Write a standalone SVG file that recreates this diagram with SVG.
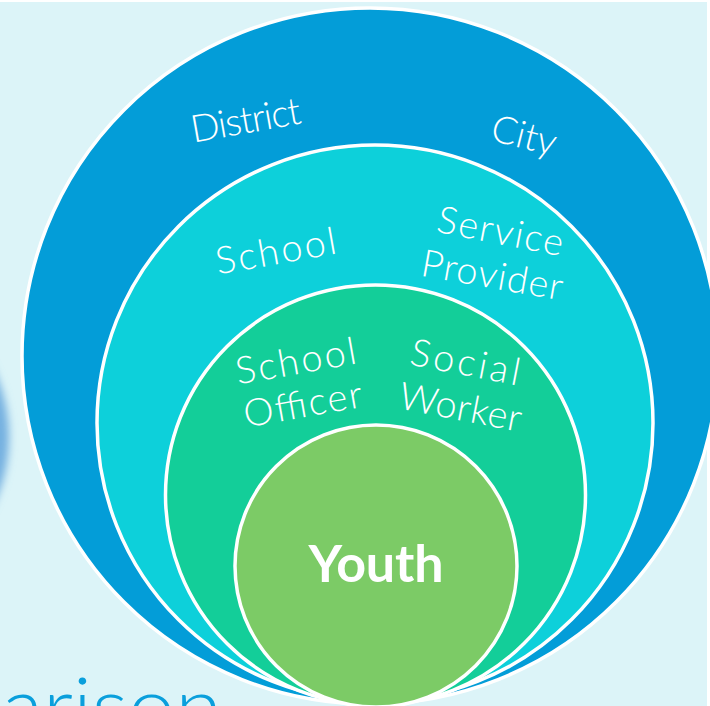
<svg xmlns="http://www.w3.org/2000/svg" width="710" height="706" viewBox="0 0 710 706">
<style>
.ring{stroke:#ffffff;stroke-width:3.5}
.lbl{fill:#ffffff;font-family:Lato,"Open Sans","Liberation Sans",sans-serif;font-weight:300;font-size:38px;text-anchor:middle}
.big{fill:#ffffff;font-family:Lato,"Liberation Sans",sans-serif;font-weight:700;font-size:52px;text-anchor:middle}
</style>
<defs>
<filter id="blur" x="-50%" y="-50%" width="200%" height="200%"><feGaussianBlur stdDeviation="4"/></filter>
</defs>
<rect x="0" y="0" width="710" height="706" fill="#ffffff"/>
<rect x="0" y="2" width="707" height="704" fill="#dcf4f8"/>
<circle cx="-146" cy="437" r="155" fill="#74b0e0" filter="url(#blur)"/>
<text x="2" y="735" font-family="Lato,'Open Sans','Liberation Sans',sans-serif" font-weight="300" font-size="80" fill="#0a9fdc" textLength="220" lengthAdjust="spacingAndGlyphs">arison</text>
<g id="city">
<circle class="ring" cx="370" cy="356" r="348" fill="#039dd8"/>
<text class="lbl" transform="translate(248,133) rotate(-10)" textLength="111">District</text>
<text class="lbl" transform="translate(521,148) rotate(14)" textLength="66">City</text>
</g>
<g id="school">
<circle class="ring" cx="375" cy="423" r="278" fill="#0dd0da"/>
<text class="lbl" transform="translate(278,264) rotate(-10)" textLength="122">School</text>
<text class="lbl" transform="translate(498,244) rotate(11)" textLength="128">Service</text>
<text class="lbl" transform="translate(490,288) rotate(10)" textLength="143">Provider</text>
</g>
<g id="officer">
<circle class="ring" cx="375.5" cy="495" r="210" fill="#13ce99"/>
<text class="lbl" transform="translate(298,374) rotate(-10)" textLength="122">School</text>
<text class="lbl" transform="translate(305,417) rotate(-10)" textLength="120">Officer</text>
<text class="lbl" transform="translate(463,375) rotate(11)" textLength="111">Social</text>
<text class="lbl" transform="translate(458,420) rotate(11)" textLength="124">Worker</text>
</g>
<g id="youth">
<circle class="ring" cx="376" cy="566" r="141" fill="#7ccb66"/>
<text class="big" x="376" y="582" textLength="135">Youth</text>
</g>
<g id="connectors"></g>
</svg>
